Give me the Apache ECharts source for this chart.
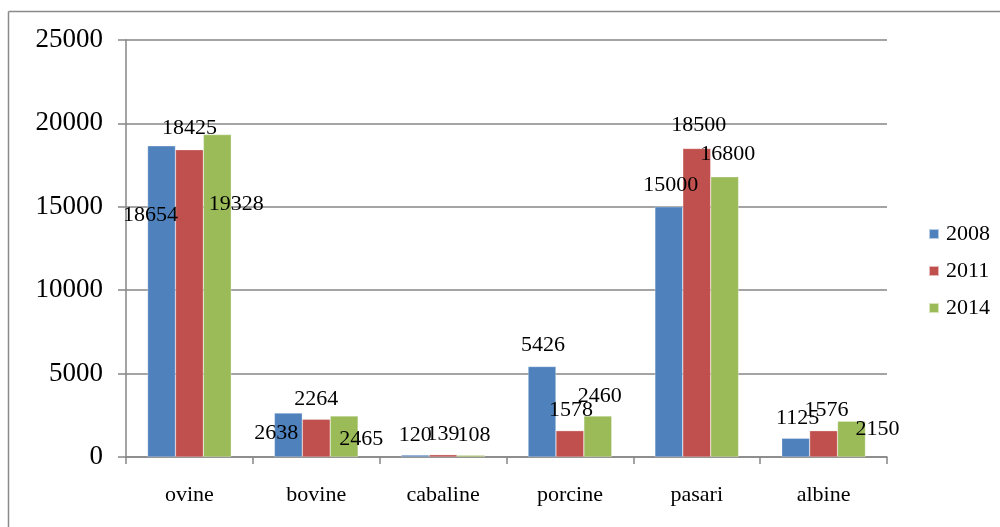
<!DOCTYPE html>
<html>
<head>
<meta charset="utf-8">
<script src="https://cdn.jsdelivr.net/npm/echarts@6/dist/echarts.min.js"></script>
<style>
html,body{margin:0;padding:0;background:#fff;}
#c{width:1000px;height:527px;}
</style>
</head>
<body>
<div id="c"></div>
<script>
const categories = ['ovine', 'bovine', 'cabaline', 'porcine', 'pasari', 'albine'];
const years = ['2008', '2011', '2014'];
const values2008 = [18654, 2638, 120, 5426, 15000, 1125];
const values2011 = [18425, 2264, 139, 1578, 18500, 1576];
const values2014 = [19328, 2465, 108, 2460, 16800, 2150];
const yTicks = [0, 5000, 10000, 15000, 20000, 25000];
const colors = ['#4F81BD', '#C0504D', '#9BBB59'];
// label offsets (style only), [dx, dy] from bar top centre
const labelOffsets = [
  [[-11, 69], [-12, 20], [0, -20], [1, -21], [2, -22], [2, -20]],
  [[0, -21], [0, -20], [0, -20], [1, -20], [2, -23], [3, -20]],
  [[19, 70], [17, 23], [3, -20], [2, -20], [3, -23], [26, 8]]
];
const seriesValues = [values2008, values2011, values2014];
const FONT = 'Liberation Serif';

const chart = echarts.init(document.getElementById('c'), null, {renderer: 'canvas'});
chart.setOption({
  animation: false,
  backgroundColor: '#fff',
  textStyle: {fontFamily: FONT},
  graphic: [
    {type: 'line', shape: {x1: 8.5, y1: 11.5, x2: 1000, y2: 11.5}, style: {stroke: '#8a8a8a', lineWidth: 1.5}},
    {type: 'line', shape: {x1: 8.5, y1: 11.5, x2: 8.5, y2: 527}, style: {stroke: '#8a8a8a', lineWidth: 1.5}}
  ],
  grid: {left: 126, right: 113, top: 40, bottom: 70, containLabel: false},
  legend: {
    orient: 'vertical',
    left: 923,
    top: 218,
    itemWidth: 10,
    itemHeight: 10,
    itemGap: 15,
    icon: 'rect',
    data: years,
    textStyle: {fontFamily: FONT, fontSize: 22, color: '#000', lineHeight: 22, padding: [0, 0, 0, 2]}
  },
  xAxis: {
    type: 'category',
    data: categories,
    axisLine: {lineStyle: {color: '#868686', width: 1.5}},
    axisTick: {show: true, length: 7, lineStyle: {color: '#868686', width: 1.5}},
    axisLabel: {fontFamily: FONT, fontSize: 22, color: '#000', margin: 27},
    splitLine: {show: false}
  },
  yAxis: {
    type: 'value',
    min: 0,
    max: 25000,
    interval: 5000,
    axisLine: {show: true, lineStyle: {color: '#868686', width: 1.5}},
    axisTick: {show: true, length: 8, lineStyle: {color: '#868686', width: 1.5}},
    axisLabel: {fontFamily: FONT, fontSize: 27, color: '#000', margin: 23,
      formatter: v => yTicks.indexOf(v) >= 0 ? String(v) : ''},
    splitLine: {show: true, lineStyle: {color: '#868686', width: 1.5}}
  },
  series: years.map((y, si) => ({
    name: y,
    type: 'bar',
    barGap: '0%',
    barCategoryGap: '34%',
    itemStyle: {color: colors[si], borderColor: 'rgba(255,255,255,0.6)', borderWidth: 0.5},
    data: seriesValues[si].map((v, ci) => ({
      value: v,
      label: {offset: labelOffsets[si][ci]}
    })),
    label: {
      show: true,
      position: 'top',
      distance: 0,
      verticalAlign: 'middle',
      fontFamily: FONT,
      fontSize: 22,
      color: '#000'
    }
  }))
});
</script>
</body>
</html>
